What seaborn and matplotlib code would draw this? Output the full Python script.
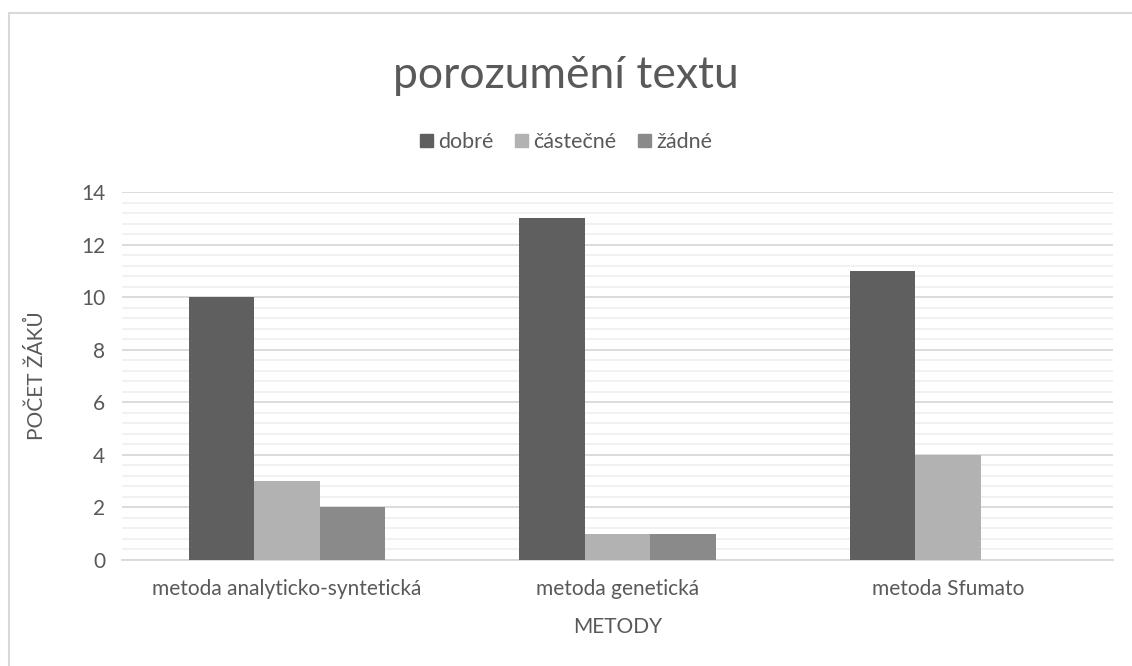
import matplotlib
matplotlib.use("Agg")
import matplotlib.pyplot as plt
import seaborn as sns
import pandas as pd
from matplotlib.patches import Rectangle
from matplotlib.ticker import MultipleLocator

# ------------------------------------------------------------
# data
# ------------------------------------------------------------
methods = ["metoda analyticko-syntetická", "metoda genetická", "metoda Sfumato"]
levels = ["dobré", "částečné", "žádné"]
dobre = [10, 13, 11]
castecne = [3, 1, 4]
zadne = [2, 1, 0]
colors = ["#5f5f5f", "#b2b2b2", "#8a8a8a"]

rows = []
for series, vals in zip(levels, [dobre, castecne, zadne]):
    for m, v in zip(methods, vals):
        rows.append({"metoda": m, "hodnoceni": series, "pocet": v})
df = pd.DataFrame(rows)

sns.set_theme(style="white")
plt.rcParams["font.family"] = ["Lato", "DejaVu Sans"]
text_col = "#595959"

W, H = 1132, 666
fig = plt.figure(figsize=(W / 100, H / 100), dpi=100)
left, right, top, bottom = 122, 1113, 192, 560
ax = fig.add_axes([left / W, 1 - bottom / H, (right - left) / W, (bottom - top) / H])

sns.barplot(data=df, x="metoda", y="pocet", hue="hodnoceni", hue_order=levels,
            order=methods, palette=colors, width=0.595, saturation=1,
            linewidth=0, ax=ax, legend=False, zorder=3)

ax.set_ylim(0, 14)
ax.yaxis.set_major_locator(MultipleLocator(2))
ax.yaxis.set_minor_locator(MultipleLocator(0.4))
ax.grid(axis="y", which="major", color="#d9d9d9", linewidth=1.3, zorder=0)
ax.grid(axis="y", which="minor", color="#f0f0f0", linewidth=1.3, zorder=0)
ax.set_axisbelow(True)
for s in ["top", "right", "left"]:
    ax.spines[s].set_visible(False)
ax.spines["bottom"].set_color("#d9d9d9")
ax.spines["bottom"].set_linewidth(1.3)
ax.tick_params(axis="both", which="both", length=0, labelsize=15,
               labelcolor=text_col)
ax.tick_params(axis="x", pad=14)
ax.tick_params(axis="y", pad=12)
ax.set_xlabel("METODY", fontsize=15, color=text_col)
ax.set_ylabel("POČET ŽÁKŮ", fontsize=15, color=text_col)
ax.xaxis.set_label_coords(0.5, (bottom - 617) / (bottom - top))
ax.yaxis.set_label_coords((47 - left) / (right - left), 0.5)

fig.text(0.5, 1 - 75 / H, "porozumění textu", ha="center", va="center",
         fontsize=32, color=text_col)

handles = [Rectangle((0, 0), 1, 1, color=c) for c in colors]
fig.legend(handles, levels, loc="center", bbox_to_anchor=(0.5, 1 - 142 / H), ncol=3,
           frameon=False, fontsize=15.5, labelcolor=text_col,
           handlelength=0.6, handleheight=0.6, handletextpad=0.25,
           columnspacing=1.0)

fig.patches.append(Rectangle((9 / W, -0.1), 1.2, 1.1 - 13 / H,
                             transform=fig.transFigure, fill=False,
                             edgecolor="#d9d9d9", linewidth=1.5))

fig.savefig("out.png", dpi=100)
